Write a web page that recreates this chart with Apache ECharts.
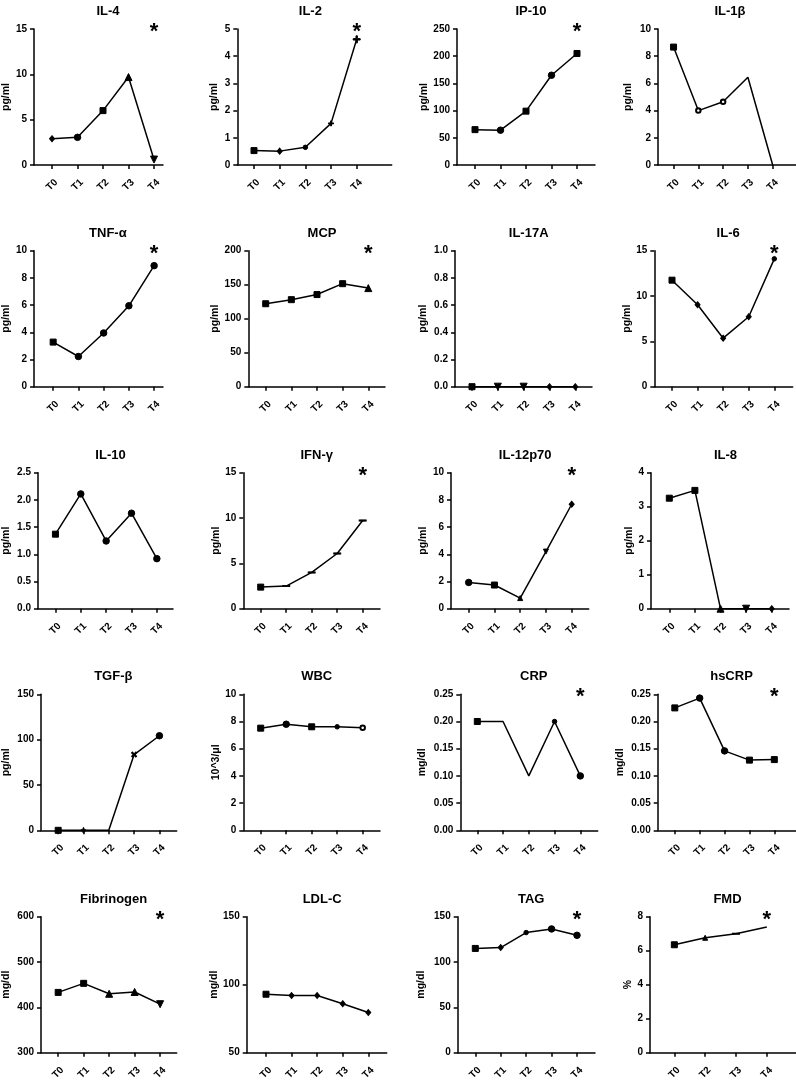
<!DOCTYPE html>
<html><head><meta charset="utf-8">
<script src="https://cdn.jsdelivr.net/npm/echarts@6/dist/echarts.min.js"></script>
<style>html,body{margin:0;padding:0;background:#fff}#c{width:796px;height:1083px}</style>
</head><body><div id="c"></div>
<script>
// ---- categories ----
const cats5 = ['T0', 'T1', 'T2', 'T3', 'T4'];
const catsFMD = ['T0', 'T2', 'T3', 'T4'];

// ---- panel titles and units ----
const titles = ['IL-4', 'IL-2', 'IP-10', 'IL-1β', 'TNF-α', 'MCP', 'IL-17A', 'IL-6',
  'IL-10', 'IFN-γ', 'IL-12p70', 'IL-8', 'TGF-β', 'WBC', 'CRP', 'hsCRP',
  'Fibrinogen', 'LDL-C', 'TAG', 'FMD'];
const units = ['pg/ml', 'pg/ml', 'pg/ml', 'pg/ml', 'pg/ml', 'pg/ml', 'pg/ml', 'pg/ml',
  'pg/ml', 'pg/ml', 'pg/ml', 'pg/ml', 'pg/ml', '10^3/μl', 'mg/dl', 'mg/dl',
  'mg/dl', 'mg/dl', 'mg/dl', '%'];

// ---- series values ----
const il4 = [2.9, 3.05, 6.0, 9.7, 0.6];
const il2 = [0.53, 0.51, 0.65, 1.53, 4.62];
const ip10 = [65, 64, 99, 165, 205];
const il1b = [8.67, 4.0, 4.65, 6.45, 0];
const tnfa = [3.28, 2.22, 3.95, 5.95, 8.9];
const mcp = [122, 128, 135.5, 151.5, 145];
const il17a = [0, 0, 0, 0, 0];
const il6 = [11.75, 9.04, 5.35, 7.72, 14.1];
const il10 = [1.37, 2.11, 1.245, 1.755, 0.92];
const ifng = [2.38, 2.49, 4.0, 6.09, 9.72];
const il12p70 = [1.93, 1.74, 0.78, 4.2, 7.68];
const il8 = [3.25, 3.48, 0, 0, 0];
const tgfb = [0, 0, 0, 83.5, 104.3];
const wbc = [7.51, 7.8, 7.61, 7.61, 7.54];
const crp = [0.2, 0.2, 0.1, 0.2, 0.1];
const hscrp = [0.225, 0.243, 0.146, 0.129, 0.13];
const fibrinogen = [433, 453, 430, 434, 407];
const ldlc = [93, 92, 92, 86, 79.5];
const tag = [115, 116, 132.5, 136.5, 129.5];
const fmd = [6.35, 6.76, 7.0, 7.39];

// ---- y tick scales ----
const yMins = [0, 0, 0, 0, 0, 0, 0, 0, 0, 0, 0, 0, 0, 0, 0, 0, 300, 50, 0, 0];
const yMaxs = [15, 5, 250, 10, 10, 200, 1, 15, 2.5, 15, 10, 4, 150, 10, 0.25, 0.25, 600, 150, 150, 8];
const ySteps = [5, 1, 50, 2, 2, 50, 0.2, 5, 0.5, 5, 2, 1, 50, 2, 0.05, 0.05, 100, 50, 50, 2];
// significance asterisk at last time point
const signif = [1, 1, 1, 0, 1, 1, 0, 1, 0, 1, 1, 0, 0, 0, 1, 1, 1, 0, 1, 1];

const values = [il4, il2, ip10, il1b, tnfa, mcp, il17a, il6, il10, ifng, il12p70, il8,
  tgfb, wbc, crp, hscrp, fibrinogen, ldlc, tag, fmd];
const catsOf = i => (i === 19 ? catsFMD : cats5);

// ---- marker style per point ----
const markerCodes = ['dCSUV', 'SdcpP', 'SCSCS', 'SooNN', 'SCCCC', 'SSSSU', 'SVVdd', 'Sdddc',
  'SCCCC', 'S----', 'CSuvd', 'SSUVd', 'SpNXC', 'SCSco', 'SNNcC', 'SCCSS',
  'SSUUV', 'Sdddd', 'SdcCC', 'Su-N'];
const PLUS = 'path://M4,0H6V4H10V6H6V10H4V6H0V4H4Z';
const DASH = 'path://M0,0H10V2H0Z';
const SYM = {
  S: { symbol: 'rect', size: 6 },
  C: { symbol: 'circle', size: 6.5 },
  c: { symbol: 'circle', size: 4.5 },
  d: { symbol: 'diamond', size: [5, 6] },
  U: { symbol: 'triangle', size: 7 },
  u: { symbol: 'triangle', size: 5 },
  V: { symbol: 'triangle', size: 7, rotate: 180 },
  v: { symbol: 'triangle', size: 5, rotate: 180 },
  P: { symbol: PLUS, size: 7 },
  p: { symbol: PLUS, size: 5 },
  X: { symbol: PLUS, size: 6, rotate: 45 },
  '-': { symbol: DASH, size: [6, 1.5] },
  o: { symbol: 'emptyCircle', size: 4.5 },
  N: { symbol: 'none', size: 0 }
};

// ---- layout: [y-axis x, first category x, last category x, x-axis end x, name gap] ----
const layout = [
  [34, 52, 154, 163, 22], [237.3, 254, 356.7, 391.7, 18], [457, 475, 577, 595, 27], [658, 674, 776, 800, 24],
  [32.3, 51.7, 154, 163, 20], [248.3, 265.7, 368.3, 385, 27], [455, 472, 575.3, 592, 26], [654.3, 672, 774.3, 792.7, 22],
  [36.7, 54.3, 156.7, 173, 26], [243.3, 260.7, 362.7, 380, 22], [451, 468.7, 571.7, 588.7, 22], [651, 669.3, 771.7, 789, 16],
  [40, 57.3, 159.3, 176.7, 29], [243.3, 260.7, 362.7, 380, 22], [460.3, 477.3, 580.3, 597.7, 33], [657.7, 675.3, 777.7, 800, 32],
  [40, 57.3, 160, 176.7, 29], [246.7, 266, 368.3, 386.7, 26], [457.7, 475.3, 577, 595, 31], [650, 675, 770, 800, 15]
];
const rowTops = [29, 250.7, 472.7, 694.3, 916.7];
const plotH = 136;
const FONT = '"Liberation Sans", Arial, sans-serif';

const decimalsOf = s => { const t = String(s); return t.includes('.') ? t.split('.')[1].length : 0; };

const grid = [], xAxis = [], yAxis = [], series = [], title = [];
titles.forEach((name, i) => {
  const [ax, t0, tl, ex, gap] = layout[i];
  const cats = catsOf(i);
  const n = cats.length;
  const step = (tl - t0) / (n - 1);
  const top = rowTops[Math.floor(i / 4)];
  const idx = cats.map((c, k) => k);
  grid.push({ left: ax, top: top, width: ex - ax, height: plotH, containLabel: false });
  xAxis.push({
    type: 'value', gridIndex: i,
    min: -(t0 - ax) / step, max: (n - 1) + (ex - tl) / step,
    axisLine: { show: true, onZero: false, lineStyle: { color: '#000', width: 1.5 } },
    axisTick: { show: true, customValues: idx, length: 4, lineStyle: { color: '#000', width: 1.5 } },
    axisLabel: {
      customValues: idx, formatter: v => cats[Math.round(v)], rotate: 45,
      align: 'center', verticalAlign: 'middle', margin: 20,
      fontFamily: FONT, fontWeight: 'bold', fontSize: 10, color: '#000'
    },
    splitLine: { show: false }
  });
  const dec = decimalsOf(ySteps[i]);
  yAxis.push({
    type: 'value', gridIndex: i, min: yMins[i], max: yMaxs[i], interval: ySteps[i],
    name: units[i], nameLocation: 'middle', nameGap: gap,
    nameTextStyle: { fontFamily: FONT, fontWeight: 'bold', fontSize: 10.5, color: '#000' },
    axisLine: { show: true, onZero: false, lineStyle: { color: '#000', width: 1.5 } },
    axisTick: { show: true, length: 4, lineStyle: { color: '#000', width: 1.5 } },
    axisLabel: { margin: 7, formatter: v => v.toFixed(dec), fontFamily: FONT, fontWeight: 'bold', fontSize: 10, color: '#000' },
    splitLine: { show: false }
  });
  title.push({
    text: name, left: (t0 + tl) / 2, top: top - 29, textAlign: 'center',
    textStyle: { fontFamily: FONT, fontWeight: 'bold', fontSize: 13, color: '#000' }
  });
  const codes = markerCodes[i];
  const data = values[i].map((v, k) => {
    const m = SYM[codes[k]];
    return { value: [k, v], symbol: m.symbol, symbolSize: m.size, symbolRotate: m.rotate || 0 };
  });
  const s = {
    type: 'line', xAxisIndex: i, yAxisIndex: i, data: data, clip: false, animation: false,
    lineStyle: { color: '#000', width: 1.5 },
    itemStyle: { color: '#000', borderColor: '#000' },
    emphasis: { disabled: true }
  };
  if (signif[i]) {
    s.markPoint = {
      symbol: 'circle', symbolSize: 0, animation: false,
      data: [{ coord: [n - 1, yMaxs[i]] }],
      label: { show: true, formatter: '*', position: 'inside', offset: [0, 3], fontFamily: FONT, fontWeight: 'bold', fontSize: 22, color: '#000' }
    };
  }
  series.push(s);
});

const chart = echarts.init(document.getElementById('c'), null, { renderer: 'canvas' });
chart.setOption({ backgroundColor: '#fff', animation: false, title, grid, xAxis, yAxis, series });
</script></body></html>
